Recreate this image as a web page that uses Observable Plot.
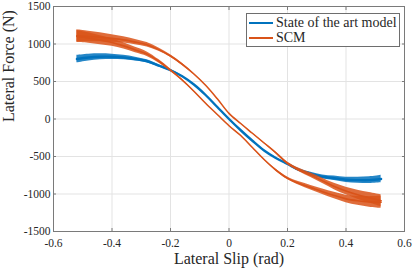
<!DOCTYPE html>
<html>
<head>
<meta charset="utf-8">
<script src="https://cdn.jsdelivr.net/npm/d3@7"></script>
<script src="https://cdn.jsdelivr.net/npm/@observablehq/plot@0.6"></script>
<style>
  html, body { margin: 0; padding: 0; background: #fff; }
  #wrap { position: relative; width: 415px; height: 268px; font-family: 'Liberation Serif', 'Times New Roman', serif; color: #262626; }
  #legend { position: absolute; left: 246px; top: 13px; width: 152px; height: 32px; border: 1px solid #6e6e6e; background: #fff; }
  .row { position: absolute; left: 2px; height: 15px; display: flex; align-items: center; font-size: 14px; white-space: nowrap; }
  .sw { display: inline-block; width: 24px; height: 2px; margin-right: 3px; }
</style>
</head>
<body>
<div id="wrap"></div>
<script>
// Lateral slip sample positions (rad)
const slip = [-0.52,-0.48,-0.44,-0.40,-0.36,-0.32,-0.28,-0.24,-0.20,-0.16,-0.12,-0.08,-0.04,0,0.04,0.08,0.12,0.16,0.20,0.24,0.28,0.32,0.36,0.40,0.44,0.48,0.52];
// State of the art model: lateral force (N) and noise half-band (N)
const sotaForce  = [800,820,830,830,820,800,770,710,650,570,460,320,160,0,-150,-290,-420,-520,-600,-680,-730,-770,-790,-810,-815,-815,-800];
const sotaSpread = [50,45,40,35,30,25,20,16,12,8,5,3,3,3,3,3,5,8,12,16,20,25,30,35,40,45,50];
// SCM: upper and lower hysteresis branches (N) and noise half-band (N)
const scmUpper  = [1110,1100,1090,1075,1055,1025,990,925,840,730,600,450,270,75,-60,-190,-320,-450,-590,-680,-750,-825,-900,-960,-1010,-1050,-1090];
const scmLower  = [1100,1080,1050,1020,975,920,865,770,650,520,370,210,60,-90,-220,-380,-540,-680,-790,-860,-915,-970,-1020,-1065,-1090,-1105,-1110];
const scmSpread = [80,70,60,50,42,36,30,22,16,12,8,4,3,3,3,4,8,12,16,22,30,36,42,50,60,70,80];
// Axis ticks and labels
const xTicks = [-0.6,-0.4,-0.2,0,0.2,0.4,0.6];
const xTickLabels = ["-0.6","-0.4","-0.2","0","0.2","0.4","0.6"];
const yTicks = [-1500,-1000,-500,0,500,1000,1500];
const yTickLabels = ["-1500","-1000","-500","0","500","1000","1500"];
const seriesNames = ["State of the art model", "SCM"];
const xLabel = "Lateral Slip (rad)";
const yLabel = "Lateral Force (N)";

const blue = "#0072BD", orange = "#D95319";

const rows = (vals, spread, branch) => slip.map((x, i) => ({x, y: vals[i], lo: vals[i] - spread[i], hi: vals[i] + spread[i], branch}));
const sotaRows = rows(sotaForce, sotaSpread, "a");
const scmRows = [...rows(scmUpper, scmSpread, "u"), ...rows(scmLower, scmSpread, "l")];

const chart = Plot.plot({
  width: 415, height: 268,
  marginLeft: 53, marginRight: 11, marginTop: 6, marginBottom: 37,
  style: {fontFamily: "'Liberation Serif', 'Times New Roman', serif", fontSize: "12px", background: "#fff", color: "#262626"},
  x: {domain: [-0.6, 0.6], label: null},
  y: {domain: [-1500, 1500], label: null},
  marks: [
    Plot.gridX(xTicks, {stroke: "#e3e3e3", strokeOpacity: 1}),
    Plot.gridY(yTicks, {stroke: "#e3e3e3", strokeOpacity: 1}),
    Plot.areaY(sotaRows, {x: "x", y1: "lo", y2: "hi", fill: blue, fillOpacity: 0.85, curve: "catmull-rom"}),
    Plot.lineY(sotaRows, {x: "x", y: "y", stroke: blue, strokeWidth: 2.4, curve: "catmull-rom"}),
    Plot.areaY(scmRows, {x: "x", y1: "lo", y2: "hi", z: "branch", fill: orange, fillOpacity: 0.85, curve: "catmull-rom"}),
    Plot.lineY(scmRows, {x: "x", y: "y", z: "branch", stroke: orange, strokeWidth: 1.6, curve: "catmull-rom"}),
    Plot.frame({stroke: "#7a7a7a"}),
    Plot.axisX(xTicks, {anchor: "bottom", tickSize: 0, tickPadding: 7, fontSize: 11.5, tickFormat: (d, i) => xTickLabels[i], fill: "#262626"}),
    Plot.axisX(xTicks, {anchor: "bottom", tickSize: -3, tickFormat: () => "", stroke: "#7a7a7a"}),
    Plot.axisX(xTicks, {anchor: "top", tickSize: -3, tickFormat: () => "", stroke: "#7a7a7a"}),
    Plot.axisY(yTicks, {anchor: "left", tickSize: 0, tickPadding: 3, fontSize: 11.5, tickFormat: (d, i) => yTickLabels[i], fill: "#262626"}),
    Plot.axisY(yTicks, {anchor: "left", tickSize: -3, tickFormat: () => "", stroke: "#7a7a7a"}),
    Plot.axisY(yTicks, {anchor: "right", tickSize: -3, tickFormat: () => "", stroke: "#7a7a7a"}),
    Plot.text([xLabel], {frameAnchor: "bottom", dy: 27, lineAnchor: "middle", fontSize: 16, fill: "#262626"}),
    Plot.text([yLabel], {frameAnchor: "left", dx: -45, dy: 3, rotate: -90, lineAnchor: "middle", fontSize: 16, fill: "#262626"})
  ]
});

const wrap = document.getElementById("wrap");
wrap.appendChild(chart);
const legend = document.createElement("div");
legend.id = "legend";
[blue, orange].forEach((c, i) => {
  const r = document.createElement("div");
  r.className = "row";
  r.style.top = (1 + i * 15) + "px";
  const sw = document.createElement("span");
  sw.className = "sw";
  sw.style.background = c;
  const t = document.createElement("span");
  t.textContent = seriesNames[i];
  r.appendChild(sw); r.appendChild(t);
  legend.appendChild(r);
});
wrap.appendChild(legend);
</script>
</body>
</html>
